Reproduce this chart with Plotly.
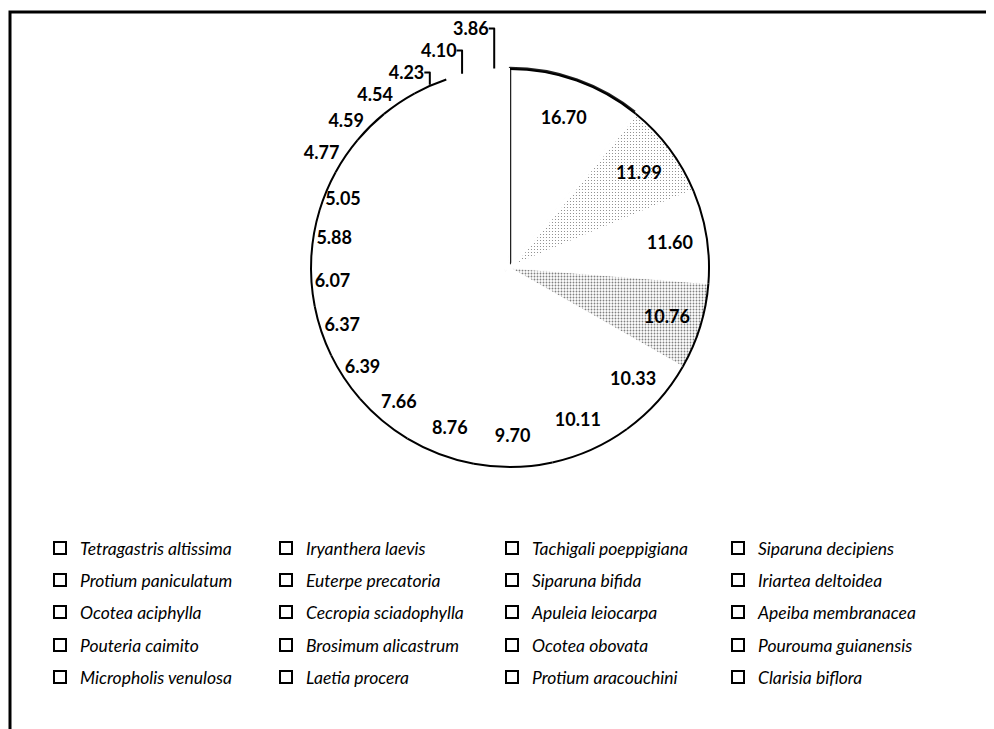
"""Pie chart of species importance values with a framed, italic legend."""

import plotly.graph_objects as go

species = [
    "Tetragastris altissima", "Iryanthera laevis", "Tachigali poeppigiana", "Siparuna decipiens",
    "Protium paniculatum", "Euterpe precatoria", "Siparuna bifida", "Iriartea deltoidea",
    "Ocotea aciphylla", "Cecropia sciadophylla", "Apuleia leiocarpa", "Apeiba membranacea",
    "Pouteria caimito", "Brosimum alicastrum", "Ocotea obovata", "Pourouma guianensis",
    "Micropholis venulosa", "Laetia procera", "Protium aracouchini", "Clarisia biflora",
]
values = [
    16.70, 11.99, 11.60, 10.76, 10.33, 10.11, 9.70, 8.76, 7.66, 6.39,
    6.37, 6.07, 5.88, 5.05, 4.77, 4.59, 4.54, 4.23, 4.10, 3.86,
]

n = len(values)
W, H = 994, 729
pie_domain = {"x": [302 / W, 702 / W], "y": [1 - 460 / H, 1 - 60 / H]}
legend_rows_y = [540, 572, 604, 637, 669]   # pixel rows of the legend
per_row = 4
n_outside = 6   # smallest slices get their labels just outside the rim

fig = go.Figure()

# legend sources: one tiny pie per legend row, hidden under the main pie
for r, y_px in enumerate(legend_rows_y):
    key = "legend" if r == 0 else f"legend{r + 1}"
    fig.add_trace(go.Pie(
        labels=species[r * per_row:(r + 1) * per_row],
        values=values[r * per_row:(r + 1) * per_row],
        sort=False, direction="clockwise",
        domain={"x": [0.5, 0.5004], "y": [0.64, 0.6404]},
        marker={"colors": ["white"] * per_row, "line": {"color": "black", "width": 2}},
        textinfo="none", hoverinfo="skip", legend=key,
    ))
    fig.update_layout({key: {
        "orientation": "h", "x": 32 / W, "y": 1 - y_px / H,
        "xanchor": "left", "yanchor": "middle",
        "entrywidth": 181, "entrywidthmode": "pixels", "itemwidth": 30,
        "bgcolor": "rgba(0,0,0,0)",
        "font": {"family": "Lato", "size": 17.5, "color": "black", "style": "italic"},
    }})

# stippled slices (2nd and 4th), everything else plain white
shapes = ["" for _ in range(n)]
shapes[1] = "."
shapes[3] = "."
solidity = [0.2] * n
solidity[1] = 0.12
solidity[3] = 0.3

# internal borders hidden, except the dark edge at twelve o'clock
line_colors = ["white"] * n
line_widths = [1] * n
line_colors[0] = "#222222"
line_widths[0] = 2.5
line_widths[1] = 4
line_widths[-1] = 0

fig.add_trace(go.Pie(
    labels=species, values=values, sort=False, direction="clockwise",
    domain=pie_domain,
    marker={
        "colors": ["white"] * n,
        "line": {"color": line_colors, "width": line_widths},
        "pattern": {"shape": shapes, "fgcolor": "#808080", "bgcolor": "white",
                    "size": 3, "solidity": solidity},
    },
    textinfo="none", hoverinfo="label+value", showlegend=False,
))

# thin black ring for the outer outline (open near the top-left like the scan)
ring_colors = ["black"] * n
ring_colors[-2] = "rgba(0,0,0,0)"
ring_colors[-1] = "rgba(0,0,0,0)"
fig.add_trace(go.Pie(
    labels=species, values=values, sort=False, direction="clockwise",
    domain=pie_domain, hole=0.99,
    marker={"colors": ring_colors, "line": {"width": 0}},
    textinfo="none", hoverinfo="skip", showlegend=False,
))

# labels trace: transparent ring so inside labels sit near the edge
positions = ["inside"] * (n - n_outside) + ["outside"] * n_outside
fig.add_trace(go.Pie(
    labels=species, values=values, sort=False, direction="clockwise",
    domain=pie_domain, hole=0.6,
    marker={"colors": ["rgba(0,0,0,0)"] * n, "line": {"width": 0}},
    texttemplate="%{value:.2f}", textposition=positions,
    insidetextorientation="horizontal",
    textfont={"family": "Lato", "size": 18, "color": "black", "weight": "bold"},
    hoverinfo="skip", showlegend=False,
))

fig.update_layout(
    width=W, height=H,
    margin={"l": 0, "r": 0, "t": 0, "b": 0},
    paper_bgcolor="white",
    uniformtext={"minsize": 18, "mode": "show"},
    shapes=[{
        "type": "rect", "xref": "paper", "yref": "paper",
        "x0": 2 / W, "x1": 1.02, "y0": -0.02, "y1": 1 - 4 / H,
        "line": {"color": "black", "width": 3},
    }],
)

fig.write_html("out.html")
